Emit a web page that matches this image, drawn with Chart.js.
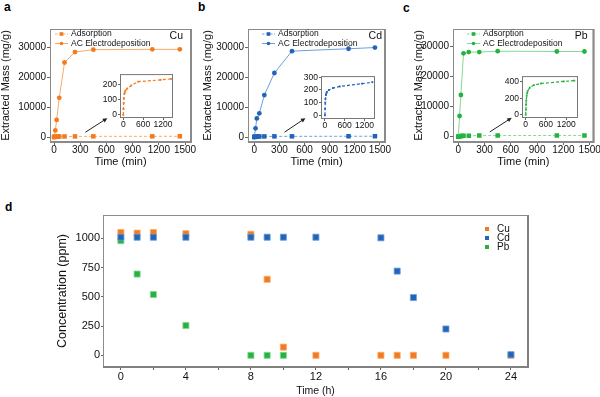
<!DOCTYPE html>
<html><head><meta charset="utf-8">
<script src="https://cdn.jsdelivr.net/npm/chart.js@4.4.0/dist/chart.umd.min.js"></script>
<style>
html,body{margin:0;padding:0;background:#fff;}
body{width:600px;height:397px;position:relative;overflow:hidden;font-family:'Liberation Sans',Arial,sans-serif;}
canvas{position:absolute;}
.lbl{position:absolute;font-weight:bold;font-size:12px;color:#000;font-family:'Liberation Sans',Arial,sans-serif;}
</style></head><body>
<div class="lbl" style="left:4px;top:0px">a</div>
<div class="lbl" style="left:198px;top:0px">b</div>
<div class="lbl" style="left:403px;top:1px">c</div>
<div class="lbl" style="left:5px;top:200px">d</div>
<canvas id="ma" width="197" height="180" style="left:0;top:0"></canvas>
<canvas id="mb" width="195" height="180" style="left:197px;top:0"></canvas>
<canvas id="mc" width="200" height="180" style="left:400px;top:0"></canvas>
<canvas id="ia" width="82" height="65" style="left:98px;top:68px"></canvas>
<canvas id="ib" width="83" height="64" style="left:299px;top:70px"></canvas>
<canvas id="ic" width="85" height="63" style="left:500px;top:70px"></canvas>
<canvas id="md" width="600" height="207" style="left:0;top:190px"></canvas>
<script>
// ---------- data ----------
const acTime = [0, 15, 30, 60, 120, 240, 450, 1125, 1440];
const adsTime = [0, 5, 10, 15, 30, 45, 60, 120, 240, 450, 1125, 1440];
const cuAC = [0, 2200, 5700, 13100, 24900, 28400, 29200, 29300, 29300];
const cdAC = [0, 2900, 6200, 7900, 14000, 21400, 28700, 29500, 29900];
const pbAC = [0, 6900, 13900, 27800, 28200, 28200, 28500, 28400, 28400];
const cuAds = [0, 40, 80, 110, 140, 150, 160, 175, 195, 220, 232, 238];
const cdAds = [0, 50, 100, 130, 160, 175, 185, 200, 215, 228, 250, 262];
const pbAds = [0, 60, 120, 170, 230, 265, 290, 330, 360, 380, 405, 415];
const massTicks = [0, 10000, 20000, 30000];
const minuteTicks = [0, 300, 600, 900, 1200, 1500];
const insetTimeTicks = [0, 600, 1200];
const cuInsetTicks = [0, 100, 200];
const cdInsetTicks = [0, 100, 200, 300];
const pbInsetTicks = [0, 200, 400];

const hours = [0, 1, 2, 4, 8, 9, 10, 12, 16, 17, 18, 20, 24];
const cuConc = [1050, 1045, 1050, 1040, 1035, 650, 70, 0, 0, 0, 0, 0, 0];
const cdConc = [1010, 1010, 1010, 1010, 1010, 1010, 1010, 1010, 1005, 720, 494, 225, 5];
const pbConc = [980, 695, 520, 255, 0, 0, 0, null, null, null, null, null, null];
const hourTicks = [0, 2, 4, 6, 8, 10, 12, 14, 16, 18, 20, 22, 24];
const concTicks = [0, 250, 500, 750, 1000];

// ---------- style ----------
const SANS = "'Liberation Sans',Arial,sans-serif";
const COL = {
  cu: {dark:'#f47a1f', light:'#f9ab6a'},
  cd: {dark:'#2464b8', light:'#6b9fdc'},
  pb: {dark:'#25b33f', light:'#86d990'}
};
const pts = (xs, ys) => xs.map((x, i) => ({x: x, y: ys[i]}));
const setTicks = arr => ax => { ax.ticks = arr.map(v => ({value: v})); };
const plain = v => String(v);

const deco = {
  id: 'deco',
  afterDraw(chart, args, o) {
    const {ctx, chartArea: a, scales} = chart;
    ctx.save();
    ctx.strokeStyle = o.frameColor || '#8c8c8c';
    ctx.lineWidth = 1;
    ctx.strokeRect(a.left + 0.5, a.top + 0.5, a.right - a.left - 1, a.bottom - a.top - 1);
    if (o.heavy) {
      ctx.lineWidth = 2;
      ctx.strokeStyle = o.heavy;
      ctx.beginPath();
      ctx.moveTo(a.right, a.top);
      ctx.lineTo(a.right, a.bottom);
      ctx.lineTo(a.left, a.bottom);
      ctx.stroke();
    }
    if (o.legend) {
      const L = o.legend;
      ctx.font = L.font;
      ctx.textBaseline = 'middle';
      ctx.textAlign = 'left';
      L.items.forEach((it, i) => {
        const y = a.top + L.y + i * L.rowH;
        const x0 = L.fromRight ? a.right + L.x : a.left + L.x;
        if (it.line) {
          ctx.strokeStyle = it.light;
          ctx.lineWidth = 1;
          ctx.setLineDash(it.dash || []);
          ctx.beginPath();
          ctx.moveTo(x0, y); ctx.lineTo(x0 + L.lineW, y);
          ctx.stroke();
          ctx.setLineDash([]);
        }
        const mx = it.line ? x0 + L.lineW / 2 : x0;
        ctx.fillStyle = it.dark;
        if (it.shape === 'circle') {
          ctx.beginPath(); ctx.arc(mx, y, L.mr, 0, Math.PI * 2); ctx.fill();
        } else {
          ctx.fillRect(mx - L.mr, y - L.mr, L.mr * 2, L.mr * 2);
        }
        ctx.fillStyle = '#111';
        ctx.fillText(it.text, x0 + L.textDx, y);
      });
    }
    if (o.tag) {
      ctx.font = o.tag.font;
      ctx.fillStyle = '#111';
      ctx.textAlign = 'right';
      ctx.textBaseline = 'middle';
      ctx.fillText(o.tag.text, a.right + o.tag.dx, a.top + o.tag.dy);
    }
    if (o.arrow) {
      const x1 = scales.x.getPixelForValue(o.arrow.from[0]);
      const y1 = scales.y.getPixelForValue(o.arrow.from[1]);
      const x2 = scales.x.getPixelForValue(o.arrow.to[0]);
      const y2 = scales.y.getPixelForValue(o.arrow.to[1]);
      const ang = Math.atan2(y2 - y1, x2 - x1);
      const hl = 5;
      ctx.strokeStyle = '#222'; ctx.fillStyle = '#222'; ctx.lineWidth = 1;
      ctx.beginPath(); ctx.moveTo(x1, y1);
      ctx.lineTo(x2 - hl * 0.8 * Math.cos(ang), y2 - hl * 0.8 * Math.sin(ang)); ctx.stroke();
      ctx.beginPath();
      ctx.moveTo(x2, y2);
      ctx.lineTo(x2 - hl * Math.cos(ang - 0.45), y2 - hl * Math.sin(ang - 0.45));
      ctx.lineTo(x2 - hl * Math.cos(ang + 0.45), y2 - hl * Math.sin(ang + 0.45));
      ctx.closePath(); ctx.fill();
    }
    ctx.restore();
  }
};

function mainChart(id, o) {
  const c = o.col;
  return new Chart(document.getElementById(id), {
    type: 'line',
    data: {datasets: [
      {label: 'AC Electrodeposition', data: pts(acTime, o.ac), borderColor: c.light, borderWidth: 1,
       pointStyle: 'circle', pointRadius: 2.4, pointBackgroundColor: c.dark, pointBorderWidth: 0, tension: 0},
      {label: 'Adsorption', data: pts(adsTime, o.ads), borderColor: c.light, borderWidth: 1, borderDash: [3, 2],
       pointStyle: 'rect', pointRadius: 3.2, pointBackgroundColor: c.dark, pointBorderWidth: 0, tension: 0}
    ]},
    options: {
      responsive: false, animation: false, devicePixelRatio: 1,
      layout: {padding: {top: 29, right: o.pr, left: 0, bottom: 0}},
      plugins: {
        legend: {display: false}, tooltip: {enabled: false},
        deco: {
          legend: {x: o.legX, y: 5, rowH: 9.5, lineW: 13, textDx: 16, mr: 1.8, font: '8.5px ' + SANS, items: [
            {text: 'Adsorption', line: true, dash: [2.5, 1.5], shape: 'rect', dark: c.dark, light: c.light},
            {text: 'AC Electrodeposition', line: true, shape: 'circle', dark: c.dark, light: c.light}
          ]},
          tag: {text: o.tag, dx: o.tagDx, dy: 7, font: '10.5px ' + SANS},
          arrow: {from: [360, 1600], to: [610, 6300]},
          frameColor: '#8a8a8a', heavy: '#8a8a8a'
        }
      },
      scales: {
        x: {type: 'linear', min: o.xmin, max: o.xmax,
          afterBuildTicks: setTicks(minuteTicks), afterFit: s => { s.height = 38; },
          grid: {drawOnChartArea: false, drawTicks: true, tickLength: 3, color: '#666'},
          border: {display: false},
          ticks: {font: {size: 10, family: SANS}, color: '#111', padding: -1, maxRotation: 0, autoSkip: false, callback: plain},
          title: {display: true, text: 'Time (min)', color: '#111', font: {size: 11, family: SANS}, padding: {top: 0, bottom: 11}}
        },
        y: {type: 'linear', min: o.ymin, max: o.ymax,
          afterBuildTicks: setTicks(massTicks), afterFit: s => { s.width = o.yw; },
          grid: {drawOnChartArea: false, drawTicks: true, tickLength: 3, color: '#666'},
          border: {display: false},
          ticks: {font: {size: 10, family: SANS}, color: '#111', padding: 1, autoSkip: false, callback: plain},
          title: {display: true, text: 'Extracted Mass (mg/g)', color: '#111', font: {size: 11, family: SANS}, padding: {top: o.ytp, bottom: 0}}
        }
      }
    },
    plugins: [deco]
  });
}

function insetChart(id, o) {
  const c = o.col;
  return new Chart(document.getElementById(id), {
    type: 'line',
    data: {datasets: [
      {data: pts(adsTime, o.ads), borderColor: c.dark, borderWidth: 1.2, borderDash: [3, 2],
       pointStyle: 'rect', pointRadius: 1.3, pointBackgroundColor: c.dark, pointBorderWidth: 0, tension: 0}
    ]},
    options: {
      responsive: false, animation: false, devicePixelRatio: 1,
      layout: {padding: {top: 5, right: 7, left: 0, bottom: 0}},
      plugins: {legend: {display: false}, tooltip: {enabled: false}, deco: {frameColor: '#777'}},
      scales: {
        x: {type: 'linear', min: o.xmin, max: o.xmax,
          afterBuildTicks: setTicks(insetTimeTicks), afterFit: s => { s.height = 15; },
          grid: {drawOnChartArea: false, tickLength: 2, color: '#666'}, border: {display: false},
          ticks: {font: {size: 8.5, family: SANS}, color: '#111', padding: 0, maxRotation: 0, autoSkip: false, callback: plain}},
        y: {type: 'linear', min: o.ymin, max: o.ymax,
          afterBuildTicks: setTicks(o.yticks), afterFit: s => { s.width = 22; },
          grid: {drawOnChartArea: false, tickLength: 2, color: '#666'}, border: {display: false},
          ticks: {font: {size: 8.5, family: SANS}, color: '#111', padding: 1, autoSkip: false, callback: plain}}
      }
    },
    plugins: [deco]
  });
}

mainChart('ma', {col: COL.cu, ac: cuAC, ads: cuAds, tag: 'Cu', tagDx: -8, legX: 5, pr: 6, yw: 50, ytp: -1,
  xmin: -46, xmax: 1568, ymin: -1670, ymax: 36100});
mainChart('mb', {col: COL.cd, ac: cdAC, ads: cdAds, tag: 'Cd', tagDx: -3, legX: 14, pr: 7, yw: 51, ytp: 4,
  xmin: -75, xmax: 1560, ymin: -1670, ymax: 36100});
mainChart('mc', {col: COL.pb, ac: pbAC, ads: pbAds, tag: 'Pb', tagDx: -6, legX: 14, pr: 6, yw: 53, ytp: 12,
  xmin: -60, xmax: 1545, ymin: -1770, ymax: 35900});

insetChart('ia', {col: COL.cu, ads: cuAds, yticks: cuInsetTicks, xmin: -100, xmax: 1500, ymin: -20, ymax: 270});
insetChart('ib', {col: COL.cd, ads: cdAds, yticks: cdInsetTicks, xmin: -120, xmax: 1520, ymin: -30, ymax: 310});
insetChart('ic', {col: COL.pb, ads: pbAds, yticks: pbInsetTicks, xmin: -110, xmax: 1550, ymin: -40, ymax: 470});

// ---------- panel d ----------
const sq = (lab, ys, c, order) => ({label: lab, data: pts(hours, ys), order: order, showLine: false,
  pointStyle: 'rect', pointRadius: 4.3, pointBackgroundColor: c.dark, pointBorderColor: c.light, pointBorderWidth: 0.8});
new Chart(document.getElementById('md'), {
  type: 'scatter',
  data: {datasets: [sq('Cu', cuConc, COL.cu, 1), sq('Cd', cdConc, COL.cd, 0), sq('Pb', pbConc, COL.pb, 2)]},
  options: {
    responsive: false, animation: false, devicePixelRatio: 1,
    layout: {padding: {top: 25, right: 72, left: 0, bottom: 0}},
    plugins: {
      legend: {display: false}, tooltip: {enabled: false},
      deco: {
        frameColor: '#8c8c8c', heavy: '#808080',
        legend: {x: -41, fromRight: true, y: 14, rowH: 9, lineW: 0, textDx: 10, mr: 2, font: '10px ' + SANS, items: [
          {text: 'Cu', dark: COL.cu.dark}, {text: 'Cd', dark: COL.cd.dark}, {text: 'Pb', dark: COL.pb.dark}
        ]}
      }
    },
    scales: {
      x: {type: 'linear', min: -1.1, max: 25.05,
        afterBuildTicks: setTicks(hourTicks), afterFit: s => { s.height = 30; },
        grid: {drawOnChartArea: false, tickLength: 3, color: '#666'}, border: {display: false},
        ticks: {font: {size: 11, family: SANS}, color: '#111', padding: 0, maxRotation: 0, autoSkip: false,
          callback: v => (v % 4 === 0 ? String(v) : '')},
        title: {display: true, text: 'Time (h)', color: '#111', font: {size: 10.5, family: SANS}, padding: {top: 0, bottom: 0}}
      },
      y: {type: 'linear', min: -100, max: 1200,
        afterBuildTicks: setTicks(concTicks), afterFit: s => { s.width = 103; },
        grid: {drawOnChartArea: false, tickLength: 2, color: '#666'}, border: {display: false},
        ticks: {font: {size: 11, family: SANS}, color: '#111', padding: 1, autoSkip: false, callback: plain},
        title: {display: true, text: 'Concentration (ppm)', color: '#111', font: {size: 12.5, family: SANS}, padding: {top: 55, bottom: 0}}
      }
    }
  },
  plugins: [deco]
});
</script>
</body></html>
